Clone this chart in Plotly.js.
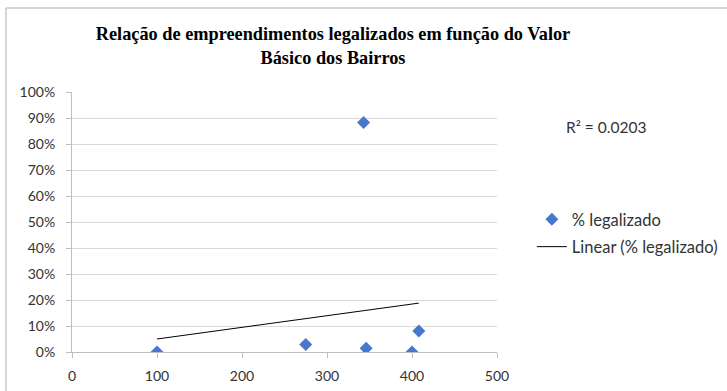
<!DOCTYPE html>
<html>
<head>
<meta charset="utf-8">
<script src="https://cdn.plot.ly/plotly-3.0.1.min.js"></script>
<style>html,body{margin:0;padding:0;background:#fff;}#chart{width:727px;height:391px;}</style>
</head>
<body>
<div id="chart"></div>
<script>
const valorBasico = [100, 275, 343, 346, 400, 408];
const pctLegalizado = [0, 0.029, 0.883, 0.014, 0, 0.081];
const trendX = [100, 408];
const trendY = [0.05, 0.188];
const xTicks = [0, 100, 200, 300, 400, 500];
const yTicks = [0, 0.1, 0.2, 0.3, 0.4, 0.5, 0.6, 0.7, 0.8, 0.9, 1.0];
const r2Label = 'R² = 0.0203';
const titleText = 'Relação de empreendimentos legalizados em função do Valor<br>Básico dos Bairros';

const font = 'Lato, "Open Sans", sans-serif';
const traces = [
  {
    x: valorBasico, y: pctLegalizado, type: 'scatter', mode: 'markers',
    name: '% legalizado', legendgroup: 'a',
    marker: {symbol: 'diamond', size: 10, color: '#4678D0'}
  },
  {
    x: trendX, y: trendY, type: 'scatter', mode: 'lines',
    name: 'Linear (% legalizado)', legendgroup: 'b',
    line: {color: '#000000', width: 1}
  }
];
const layout = {
  width: 727, height: 391,
  margin: {l: 72, r: 230, t: 92, b: 39, pad: 0, autoexpand: false},
  paper_bgcolor: '#ffffff', plot_bgcolor: '#ffffff',
  font: {family: font, size: 14, color: '#333333'},
  title: {
    text: titleText,
    font: {family: '"Liberation Serif", "Times New Roman", serif', size: 18.3, color: '#000000', weight: 'bold'},
    x: 333/727, xanchor: 'center', xref: 'container',
    y: 1 - 40/391, yanchor: 'top', yref: 'container'
  },
  xaxis: {
    range: [0, 500], tickvals: xTicks, ticktext: xTicks.map(String),
    showgrid: false, zeroline: false, showline: true, linecolor: '#bfbfbf', linewidth: 1,
    ticks: 'outside', ticklen: 5, tickcolor: '#bfbfbf', ticklabelstandoff: 6,
    tickfont: {family: font, size: 14, color: '#333333'}, fixedrange: true
  },
  yaxis: {
    range: [0, 1], tickvals: yTicks, tickformat: '.0%',
    showgrid: true, gridcolor: '#d9d9d9', gridwidth: 1,
    zeroline: false, showline: true, linecolor: '#bfbfbf', linewidth: 1,
    ticks: 'outside', ticklen: 5, tickcolor: '#bfbfbf', ticklabelstandoff: 8,
    tickfont: {family: font, size: 14, color: '#333333'}, fixedrange: true
  },
  showlegend: true,
  legend: {
    x: 1.082, xanchor: 'left', y: 0.577, yanchor: 'top',
    traceorder: 'grouped', tracegroupgap: 3,
    font: {family: font, size: 16.5, color: '#333333'},
    bgcolor: 'rgba(0,0,0,0)', borderwidth: 0
  },
  annotations: [{
    text: r2Label, xref: 'paper', yref: 'paper',
    x: (564 - 72) / 425, y: (352 - 127) / 260, xanchor: 'left', yanchor: 'middle',
    showarrow: false, font: {family: font, size: 15.5, color: '#333333'}
  }],
  shapes: [
    {type: 'line', xref: 'paper', yref: 'paper', x0: (6 - 72) / 425, x1: 3, y0: (352 - 8) / 260, y1: (352 - 8) / 260, line: {color: '#c8c8c8', width: 1.5}},
    {type: 'line', xref: 'paper', yref: 'paper', x0: (6 - 72) / 425, x1: (6 - 72) / 425, y0: (352 - 8) / 260, y1: -1, line: {color: '#c8c8c8', width: 1.5}}
  ]
};
Plotly.newPlot('chart', traces, layout, {displayModeBar: false, staticPlot: true});
</script>
</body>
</html>
